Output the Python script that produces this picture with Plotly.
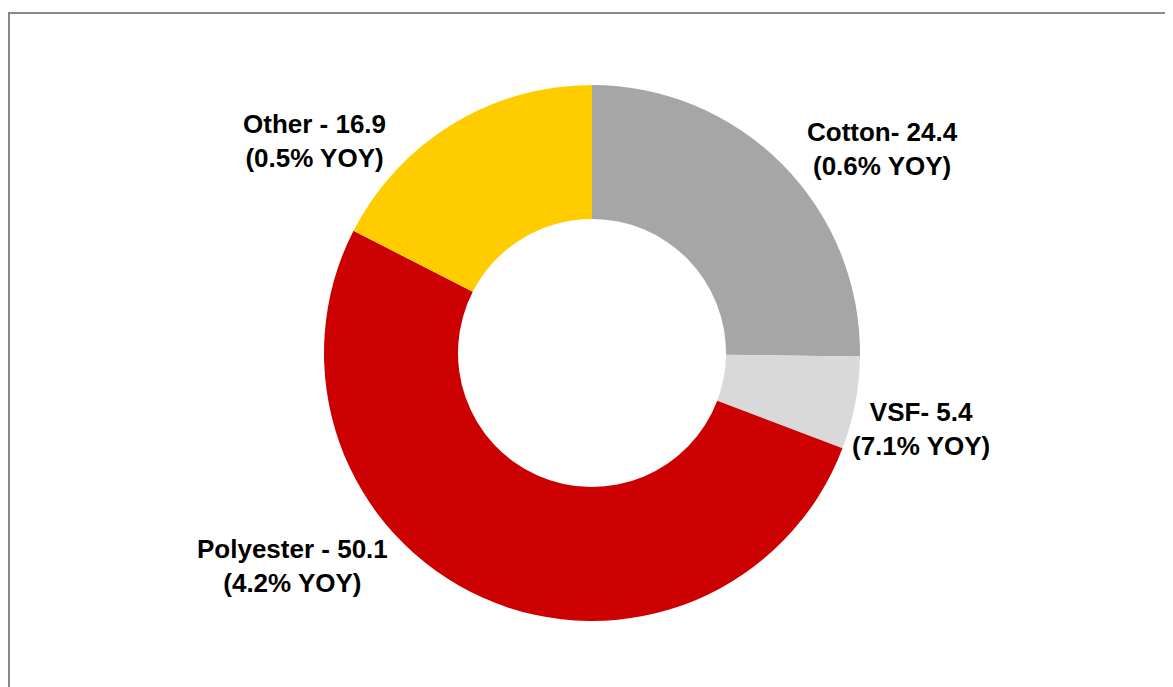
import plotly.graph_objects as go

categories = ["Cotton", "VSF", "Polyester", "Other"]
values = [24.4, 5.4, 50.1, 16.9]
yoy = ["0.6%", "7.1%", "4.2%", "0.5%"]
label_names = ["Cotton- ", "VSF- ", "Polyester - ", "Other - "]
colors = ["#A6A6A6", "#D9D9D9", "#CC0000", "#FFCC00"]

W, H = 1173, 687
OFF = 8  # page body margin
cx, cy, R = 592 - OFF, 353 - OFF, 268

fig = go.Figure(go.Pie(
    labels=categories,
    values=values,
    hole=0.5,
    sort=False,
    direction="clockwise",
    rotation=0,
    marker=dict(colors=colors, line=dict(width=0)),
    textinfo="none",
    showlegend=False,
    domain=dict(x=[(cx - R) / W, (cx + R) / W],
                y=[(H - cy - R) / H, (H - cy + R) / H]),
))

# label centres in pixels (layout)
label_pos = {"Cotton": (882, 149), "VSF": (921, 429),
             "Polyester": (292, 566), "Other": (314, 141)}

for cat, val, y, nm in zip(categories, values, yoy, label_names):
    px, py = label_pos[cat]
    fig.add_annotation(
        x=(px - OFF) / W, y=1 - (py - OFF) / H, xref="paper", yref="paper",
        text=f"<b>{nm}{val}</b><br><b>({y} YOY)</b>",
        showarrow=False, align="center", xanchor="center", yanchor="middle",
        font=dict(family="Liberation Sans, Arial, sans-serif", size=26, color="#000000"),
    )

fig.add_shape(type="rect", xref="paper", yref="paper",
              x0=1 / W, y0=-0.05, x1=1.05, y1=1 - 5 / H,
              line=dict(color="#888888", width=2), fillcolor="rgba(0,0,0,0)")

fig.update_layout(
    width=W, height=H,
    margin=dict(l=0, r=0, t=0, b=0),
    paper_bgcolor="white", plot_bgcolor="white",
)

fig.write_html("out.html")
